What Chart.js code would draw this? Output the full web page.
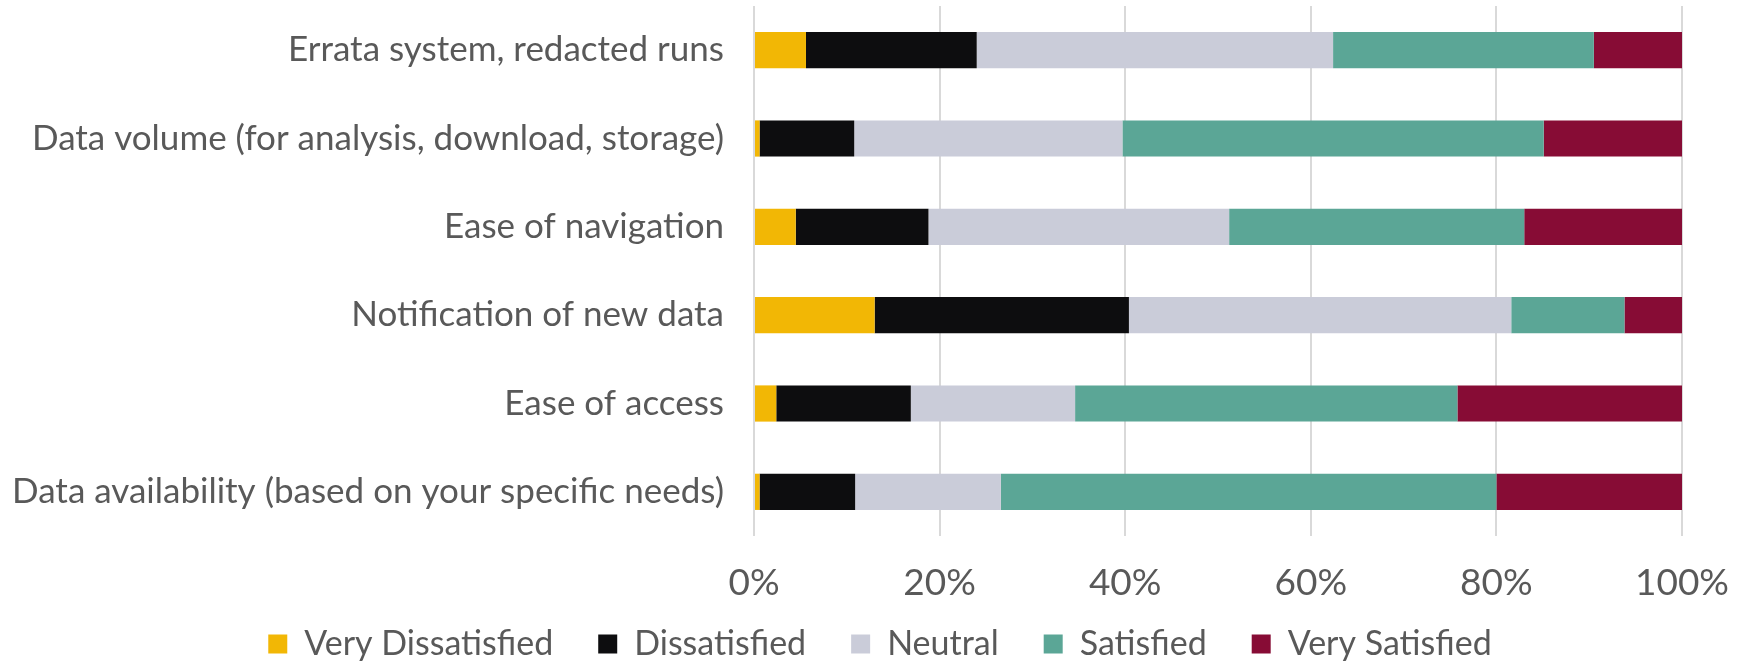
<!DOCTYPE html>
<html><head><meta charset="utf-8">
<script src="https://cdn.jsdelivr.net/npm/chart.js@4.4.1/dist/chart.umd.min.js"></script>
<style>html,body{margin:0;padding:0;background:#fff}#wrap{width:1740px;height:663px;position:relative}</style>
</head><body><div id="wrap"><canvas id="c" width="1740" height="663"></canvas></div>
<script>
const categories = ["Errata system, redacted runs","Data volume (for analysis, download, storage)","Ease of navigation","Notification of new data","Ease of access","Data availability (based on your specific needs)"];
const veryDissatisfied = [5.6, 0.6, 4.5, 13.0, 2.4, 0.6];
const dissatisfied     = [18.4, 10.2, 14.3, 27.4, 14.5, 10.3];
const neutral          = [38.4, 28.9, 32.4, 41.2, 17.7, 15.7];
const satisfied        = [28.1, 45.4, 31.8, 12.2, 41.2, 53.4];
const verySatisfied    = [9.5, 14.9, 17.0, 6.2, 24.2, 20.0];
const seriesNames = ["Very Dissatisfied","Dissatisfied","Neutral","Satisfied","Very Satisfied"];
const tickValues = [0,20,40,60,80,100];

const colors = ["#F2B705","#0D0D0F","#CACCD9","#5BA696","#870C35"];
const series = [veryDissatisfied, dissatisfied, neutral, satisfied, verySatisfied];
const font = "'Lato', 'Open Sans', sans-serif";
const textColor = "#595959";

const legendPlace = {
  id: 'legendPlace',
  beforeLayout(chart) {
    const lg = chart.legend;
    if (lg && !lg._fixed) {
      const f = lg.fit;
      lg.fit = function(){ f.call(this); this.height = 53; };
      lg._fixed = true;
    }
  },
  afterLayout(chart) {
    const lg = chart.legend;
    if (!lg) return;
    lg.top = 582; lg.bottom = 663;
    lg.left += 39; lg.right += 39;
  }
};

new Chart(document.getElementById('c'), {
  type: 'bar',
  data: {
    labels: categories,
    datasets: series.map((d,i)=>({label: seriesNames[i], data: d, backgroundColor: colors[i], borderWidth: 0, categoryPercentage: 1, barPercentage: 0.41}))
  },
  plugins: [legendPlace],
  options: {
    indexAxis: 'y',
    responsive: false,
    animation: false,
    devicePixelRatio: 1,
    layout: {padding: {top: 6, right: 58, left: 0, bottom: 0}},
    plugins: {
      legend: {position: 'bottom', labels: {font: {family: font, size: 34}, color: textColor, boxWidth: 19, boxHeight: 19, padding: 45, useBorderRadius: false}},
      tooltip: {enabled: false}
    },
    scales: {
      x: {stacked: true, min: 0, max: 100,
        afterBuildTicks: s => { s.ticks = tickValues.map(v=>({value:v})); },
        afterFit: s => { s.height = 74; s.paddingLeft = 0; s.paddingRight = 0; },
        grid: {color: '#D9D9D9', lineWidth: 2, drawTicks: false},
        border: {display: false},
        ticks: {font: {family: font, size: 37}, color: textColor, padding: 25, maxRotation: 0, callback: v => v + '%'}},
      y: {stacked: true,
        afterFit: s => { s.width = 754; s.paddingTop = 0; s.paddingBottom = 0; },
        grid: {display: false},
        border: {display: false},
        ticks: {font: {family: font, size: 35}, color: textColor, padding: 22}}
    }
  }
});
</script></body></html>
